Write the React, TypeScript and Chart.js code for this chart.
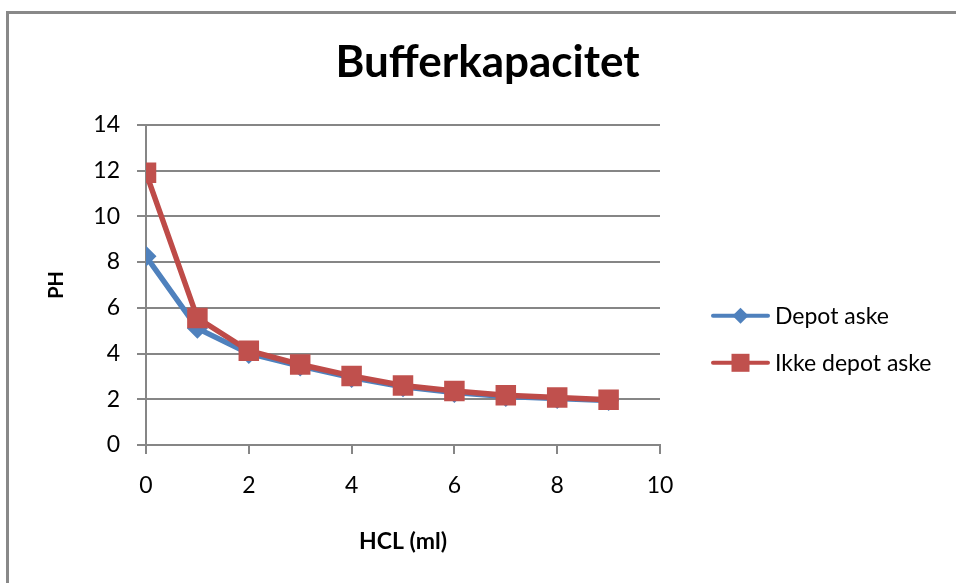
import React, { useEffect, useRef } from "react";
import { Chart, registerables } from "chart.js";

Chart.register(...registerables);

const chartTitle = "Bufferkapacitet";
const xAxisTitle = "HCL (ml)";
const yAxisTitle = "PH";
const hclMl = [0, 1, 2, 3, 4, 5, 6, 7, 8, 9];
const depotAske = [8.25, 5.1, 4.0, 3.45, 2.95, 2.55, 2.3, 2.12, 2.03, 1.95];
const ikkeDepotAske = [11.9, 5.55, 4.12, 3.52, 3.02, 2.6, 2.36, 2.18, 2.08, 1.98];
const seriesNames = ["Depot aske", "Ikke depot aske"];

const BLUE = "#4F81BD";
const RED = "#C0504D";
const GRID = "#868686";
const FONT = "Lato, 'Open Sans', sans-serif";

const legendPlugin = {
  id: "customLegend",
  afterDraw(chart: any) {
    const { ctx, chartArea } = chart;
    const x0 = chartArea.right + 53;
    const rows = [chartArea.top + 191, chartArea.top + 238];
    chart.data.datasets.forEach((ds: any, i: number) => {
      const y = rows[i];
      ctx.save();
      ctx.strokeStyle = ds.borderColor;
      ctx.lineWidth = 4;
      ctx.lineCap = "round";
      ctx.beginPath();
      ctx.moveTo(x0, y);
      ctx.lineTo(x0 + 55, y);
      ctx.stroke();
      const cx = x0 + 27.5;
      ctx.fillStyle = ds.pointBackgroundColor;
      ctx.beginPath();
      if (ds.pointStyle === "rectRot") {
        ctx.moveTo(cx - 8, y);
        ctx.lineTo(cx, y - 8);
        ctx.lineTo(cx + 8, y);
        ctx.lineTo(cx, y + 8);
        ctx.closePath();
      } else {
        ctx.rect(cx - 9, y - 9, 18, 18);
      }
      ctx.fill();
      ctx.fillStyle = "#000";
      ctx.font = `23px ${FONT}`;
      ctx.textAlign = "left";
      ctx.textBaseline = "middle";
      ctx.fillText(ds.label, x0 + 62, y + 1);
      ctx.restore();
    });
  },
};

export default function App() {
  const canvasRef = useRef<HTMLCanvasElement | null>(null);

  useEffect(() => {
    if (!canvasRef.current) return;
    const chart = new Chart(canvasRef.current, {
      type: "line",
      data: {
        datasets: [
          {
            label: seriesNames[0],
            data: hclMl.map((x, i) => ({ x, y: depotAske[i] })),
            borderColor: BLUE,
            backgroundColor: BLUE,
            pointBackgroundColor: BLUE,
            pointBorderColor: BLUE,
            borderWidth: 5.5,
            pointStyle: "rectRot",
            pointRadius: 10.5,
            pointBorderWidth: 0,
            tension: 0,
            order: 1,
          },
          {
            label: seriesNames[1],
            data: hclMl.map((x, i) => ({ x, y: ikkeDepotAske[i] })),
            borderColor: "#BE4B48",
            backgroundColor: RED,
            pointBackgroundColor: RED,
            pointBorderColor: "#BE4B48",
            borderWidth: 5.5,
            pointStyle: "rect",
            pointRadius: 14.5,
            pointBorderWidth: 0,
            tension: 0,
            order: 0,
          },
        ],
      },
      options: {
        animation: false,
        responsive: false,
        maintainAspectRatio: false,
        layout: { padding: { left: 0, right: 0, top: 0, bottom: 0 } },
        plugins: {
          legend: { display: false },
          tooltip: { enabled: false },
          title: {
            display: true,
            text: chartTitle,
            color: "#000",
            font: { family: FONT, size: 44, weight: "bold" },
            padding: { top: 36, bottom: 36 },
          },
        },
        scales: {
          x: {
            type: "linear",
            min: 0,
            max: 10,
            ticks: {
              stepSize: 2,
              color: "#000",
              font: { family: FONT, size: 23 },
              padding: 18,
              maxRotation: 0,
            },
            grid: {
              drawOnChartArea: false,
              drawTicks: true,
              tickLength: 9,
              color: GRID,
              lineWidth: 2,
            },
            border: { display: true, color: GRID, width: 2 },
            title: {
              display: true,
              text: xAxisTitle,
              color: "#000",
              font: { family: FONT, size: 23, weight: "bold" },
              padding: { top: 0, bottom: 28 },
            },
            afterFit: (scale: any) => {
              scale.height = 138;
            },
          },
          y: {
            min: 0,
            max: 14,
            ticks: {
              stepSize: 2,
              color: "#000",
              font: { family: FONT, size: 23 },
              padding: 17,
            },
            grid: {
              drawTicks: true,
              tickLength: 9,
              color: GRID,
              lineWidth: 2,
            },
            border: { display: true, color: GRID, width: 2 },
            title: {
              display: true,
              text: yAxisTitle,
              color: "#000",
              font: { family: FONT, size: 20, weight: "bold" },
              padding: { top: 45, bottom: 0 },
            },
            afterFit: (scale: any) => {
              scale.width = 146;
            },
          },
          legendSpace: {
            type: "linear",
            position: "right",
            display: true,
            ticks: { display: false },
            grid: { display: false, drawTicks: false },
            border: { display: false },
            afterFit: (scale: any) => {
              scale.width = 315;
            },
          },
        },
      },
      plugins: [legendPlugin],
    });
    return () => chart.destroy();
  }, []);

  return (
    <div
      style={{
        position: "fixed",
        left: 0,
        top: 0,
        width: 956,
        height: 583,
        overflow: "hidden",
        background: "#fff",
      }}
    >
      <div
        style={{
          position: "absolute",
          left: 6,
          top: 11,
          width: 1000,
          height: 620,
          border: "3px solid #898989",
          boxSizing: "border-box",
        }}
      />
      <canvas
        ref={canvasRef}
        width={975}
        height={583}
        style={{ position: "absolute", left: 0, top: 0, width: 975, height: 583 }}
      />
    </div>
  );
}
